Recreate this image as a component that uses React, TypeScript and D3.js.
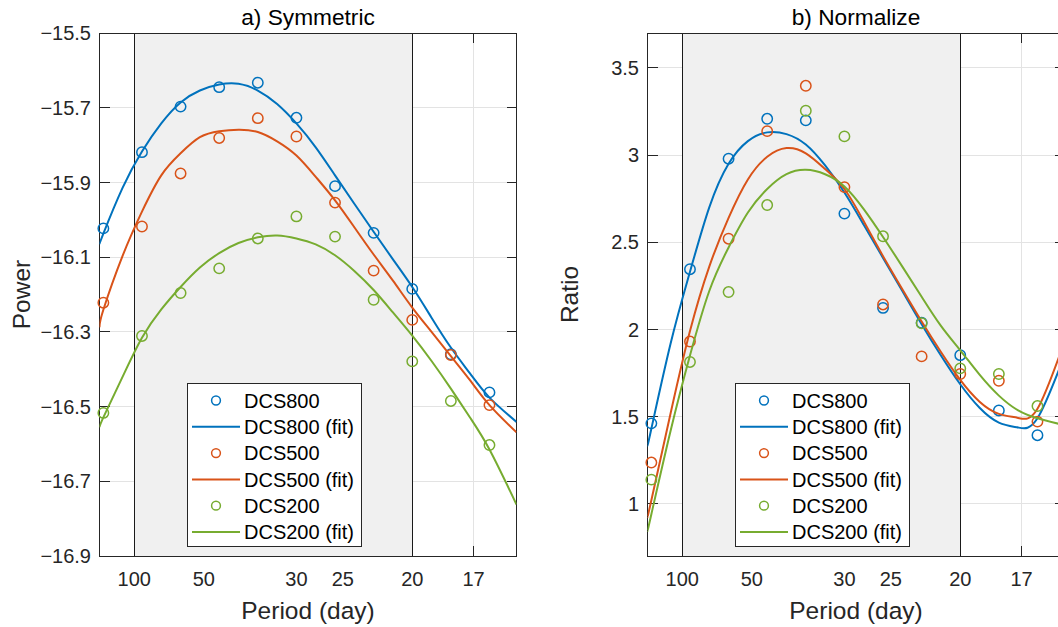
import React from "react"
import * as d3 from "d3"

// x positions are frequency indices: k cycles per 180 days
const pointK = [1, 2, 3, 4, 5, 6, 7, 8, 9, 10, 11]
const fitK = [0.9, 1, 1.5, 2, 2.5, 3, 3.5, 4, 4.5, 5, 5.5, 6, 6.5, 7, 7.5, 8, 8.5, 9, 9.5, 10, 10.5, 11, 11.7]
const periodTicks = [100, 50, 30, 25, 20, 17]
const shadedPeriods = [100, 20]

const seriesNames = ["DCS800", "DCS500", "DCS200"]
const colors = ["#0072BD", "#D95319", "#77AC30"]

// a) Symmetric
const powerTicks = [-15.5, -15.7, -15.9, -16.1, -16.3, -16.5, -16.7, -16.9]
const power800 = [-16.023, -15.819, -15.697, -15.645, -15.633, -15.727, -15.91, -16.035, -16.185, -16.36, -16.462]
const power500 = [-16.222, -16.018, -15.876, -15.781, -15.728, -15.777, -15.954, -16.136, -16.268, -16.362, -16.496]
const power200 = [-16.517, -16.311, -16.196, -16.13, -16.05, -15.991, -16.045, -16.214, -16.379, -16.485, -16.603]
const powerFit800 = [-16.066, -16.037, -15.914, -15.817, -15.742, -15.686, -15.654, -15.638, -15.636, -15.654, -15.69, -15.742, -15.806, -15.881, -15.957, -16.032, -16.106, -16.18, -16.262, -16.342, -16.412, -16.476, -16.541]
const powerFit500 = [-16.288, -16.241, -16.096, -15.978, -15.881, -15.822, -15.779, -15.763, -15.759, -15.765, -15.79, -15.828, -15.885, -15.948, -16.02, -16.093, -16.163, -16.235, -16.3, -16.365, -16.43, -16.496, -16.569]
const powerFit200 = [-16.556, -16.529, -16.42, -16.316, -16.24, -16.18, -16.128, -16.089, -16.062, -16.047, -16.042, -16.05, -16.066, -16.095, -16.137, -16.188, -16.248, -16.31, -16.378, -16.452, -16.53, -16.615, -16.762]

// b) Normalize
const ratioTicks = [1, 1.5, 2, 2.5, 3, 3.5]
const ratio800 = [1.461, 2.345, 2.979, 3.208, 3.199, 2.664, 2.123, 2.038, 1.852, 1.535, 1.393]
const ratio500 = [1.236, 1.93, 2.52, 3.137, 3.397, 2.816, 2.143, 1.845, 1.744, 1.705, 1.471]
const ratio200 = [1.138, 1.813, 2.214, 2.713, 3.254, 3.107, 2.534, 2.035, 1.776, 1.744, 1.56]
const ratioFit800 = [1.336, 1.43, 1.92, 2.33, 2.7, 2.95, 3.08, 3.13, 3.12, 3.06, 2.94, 2.785, 2.6, 2.41, 2.22, 2.03, 1.85, 1.685, 1.55, 1.465, 1.437, 1.49, 1.85]
const ratioFit500 = [0.925, 1.02, 1.52, 1.99, 2.36, 2.64, 2.86, 2.99, 3.04, 3.01, 2.92, 2.805, 2.62, 2.42, 2.23, 2.045, 1.87, 1.71, 1.585, 1.515, 1.492, 1.545, 1.93]
const ratioFit200 = [0.845, 0.94, 1.42, 1.85, 2.22, 2.47, 2.67, 2.805, 2.89, 2.915, 2.89, 2.82, 2.69, 2.53, 2.36, 2.187, 2.02, 1.88, 1.74, 1.62, 1.535, 1.49, 1.45]

const W = 1058
const H = 627
const TOP = 33
const BOTTOM = 556
const PLOT_W = 417
const AX = "#262626"
const FONT = "'Liberation Sans', Arial, Helvetica, sans-serif"

const fmtTick = (v: number) => String(+v.toFixed(2)).replace("-", "\u2212")

type PanelProps = {
	id: string
	left: number
	title: string
	ylabel: string
	yDomain: [number, number]
	yTicks: number[]
	points: number[][]
	fits: number[][]
}

const Panel = ({ id, left, title, ylabel, yDomain, yTicks, points, fits }: PanelProps) => {
	const right = left + PLOT_W
	const x = d3.scaleLinear().domain([0.005, 0.065]).range([left, right])
	const y = d3.scaleLinear().domain(yDomain).range([BOTTOM, TOP])
	const fx = (k: number) => x(k / 180)

	const line = d3
		.line<number>()
		.x((_, i) => fx(fitK[i]))
		.y(d => y(d))
		.curve(d3.curveNatural)

	const sx0 = x(1 / shadedPeriods[0])
	const sx1 = x(1 / shadedPeriods[1])

	// legend geometry
	const lgX = left + 87.5
	const lgY = 383
	const lgW = 174
	const lgH = 163
	const legendRows: { label: string; color: string; kind: "pt" | "ln" }[] = []
	seriesNames.forEach((n, i) => {
		legendRows.push({ label: n, color: colors[i], kind: "pt" })
		legendRows.push({ label: n + " (fit)", color: colors[i], kind: "ln" })
	})

	return (
		<g>
			<defs>
				<clipPath id={id}>
					<rect x={left} y={TOP} width={PLOT_W} height={BOTTOM - TOP} />
				</clipPath>
			</defs>
			<rect x={left} y={TOP} width={PLOT_W} height={BOTTOM - TOP} fill="#fff" />

			{/* grid */}
			<g stroke="#e3e3e3" strokeWidth={1} shapeRendering="crispEdges">
				{yTicks.map(t => (
					<line key={"gy" + t} x1={left} x2={right} y1={y(t)} y2={y(t)} />
				))}
				{periodTicks.map(p => (
					<line key={"gx" + p} x1={x(1 / p)} x2={x(1 / p)} y1={TOP} y2={BOTTOM} />
				))}
			</g>

			{/* ticks */}
			<g stroke={AX} strokeWidth={1} shapeRendering="crispEdges">
				{yTicks.map(t => (
					<g key={"ty" + t}>
						<line x1={left} x2={left + 10} y1={y(t)} y2={y(t)} />
						<line x1={right - 10} x2={right} y1={y(t)} y2={y(t)} />
					</g>
				))}
				{periodTicks.map(p => (
					<g key={"tx" + p}>
						<line x1={x(1 / p)} x2={x(1 / p)} y1={BOTTOM} y2={BOTTOM - 10} />
						<line x1={x(1 / p)} x2={x(1 / p)} y1={TOP} y2={TOP + 10} />
					</g>
				))}
			</g>

			{/* shaded band 100–20 days */}
			<rect x={sx0} y={TOP} width={sx1 - sx0} height={BOTTOM - TOP} fill="#f0f0f0" />
			<g stroke="#1a1a1a" strokeWidth={1} shapeRendering="crispEdges">
				<line x1={sx0} x2={sx0} y1={TOP} y2={BOTTOM} />
				<line x1={sx1} x2={sx1} y1={TOP} y2={BOTTOM} />
			</g>

			{/* box */}
			<rect
				x={left}
				y={TOP}
				width={PLOT_W}
				height={BOTTOM - TOP}
				fill="none"
				stroke={AX}
				strokeWidth={1}
				shapeRendering="crispEdges"
			/>

			{/* data */}
			{seriesNames.map((n, i) => (
				<g key={n}>
					{points[i].map((v, j) => (
						<circle
							key={j}
							cx={fx(pointK[j])}
							cy={y(v)}
							r={5.2}
							fill="none"
							stroke={colors[i]}
							strokeWidth={1.5}
						/>
					))}
					<path
						d={line(fits[i]) || ""}
						fill="none"
						stroke={colors[i]}
						strokeWidth={2}
						clipPath={`url(#${id})`}
					/>
				</g>
			))}

			{/* tick labels */}
			<g fontFamily={FONT} fontSize={20} fill={AX}>
				{yTicks.map(t => (
					<text key={"ly" + t} x={left - 8.5} y={y(t)} dy="0.36em" textAnchor="end">
						{fmtTick(t)}
					</text>
				))}
				{periodTicks.map(p => (
					<text key={"lx" + p} x={x(1 / p)} y={586} textAnchor="middle">
						{p}
					</text>
				))}
			</g>

			{/* labels and title */}
			<text
				x={(left + right) / 2}
				y={619}
				textAnchor="middle"
				fontFamily={FONT}
				fontSize={24.5}
				fill={AX}
			>
				Period (day)
			</text>
			<text
				transform={`translate(${left - 69.5},${(TOP + BOTTOM) / 2}) rotate(-90)`}
				textAnchor="middle"
				fontFamily={FONT}
				fontSize={24.5}
				fill={AX}
			>
				{ylabel}
			</text>
			<text x={(left + right) / 2} y={25} textAnchor="middle" fontFamily={FONT} fontSize={22.7} fill="#000">
				{title}
			</text>

			{/* legend */}
			<rect x={lgX} y={lgY} width={lgW} height={lgH} fill="#fff" stroke={AX} strokeWidth={1} shapeRendering="crispEdges" />
			{legendRows.map((r, i) => {
				const cy = lgY + 17.5 + i * 26.3
				return (
					<g key={r.label}>
						{r.kind === "pt" ? (
							<circle cx={lgX + 29} cy={cy} r={4.4} fill="none" stroke={r.color} strokeWidth={1.5} />
						) : (
							<line x1={lgX + 5} x2={lgX + 53} y1={cy} y2={cy} stroke={r.color} strokeWidth={2} />
						)}
						<text x={lgX + 57} y={cy} dy="0.36em" fontFamily={FONT} fontSize={20} fill="#000">
							{r.label}
						</text>
					</g>
				)
			})}
		</g>
	)
}

export default function App() {
	return (
		<svg
			width={W}
			height={H}
			viewBox={`0 0 ${W} ${H}`}
			style={{ position: "absolute", left: 0, top: 0, background: "#fff" }}
		>
			<rect width={W} height={H} fill="#fff" />
			<Panel
				id="clipA"
				left={99.5}
				title="a) Symmetric"
				ylabel="Power"
				yDomain={[-16.9, -15.5]}
				yTicks={powerTicks}
				points={[power800, power500, power200]}
				fits={[powerFit800, powerFit500, powerFit200]}
			/>
			<Panel
				id="clipB"
				left={647.5}
				title="b) Normalize"
				ylabel="Ratio"
				yDomain={[0.7, 3.7]}
				yTicks={ratioTicks}
				points={[ratio800, ratio500, ratio200]}
				fits={[ratioFit800, ratioFit500, ratioFit200]}
			/>
		</svg>
	)
}
